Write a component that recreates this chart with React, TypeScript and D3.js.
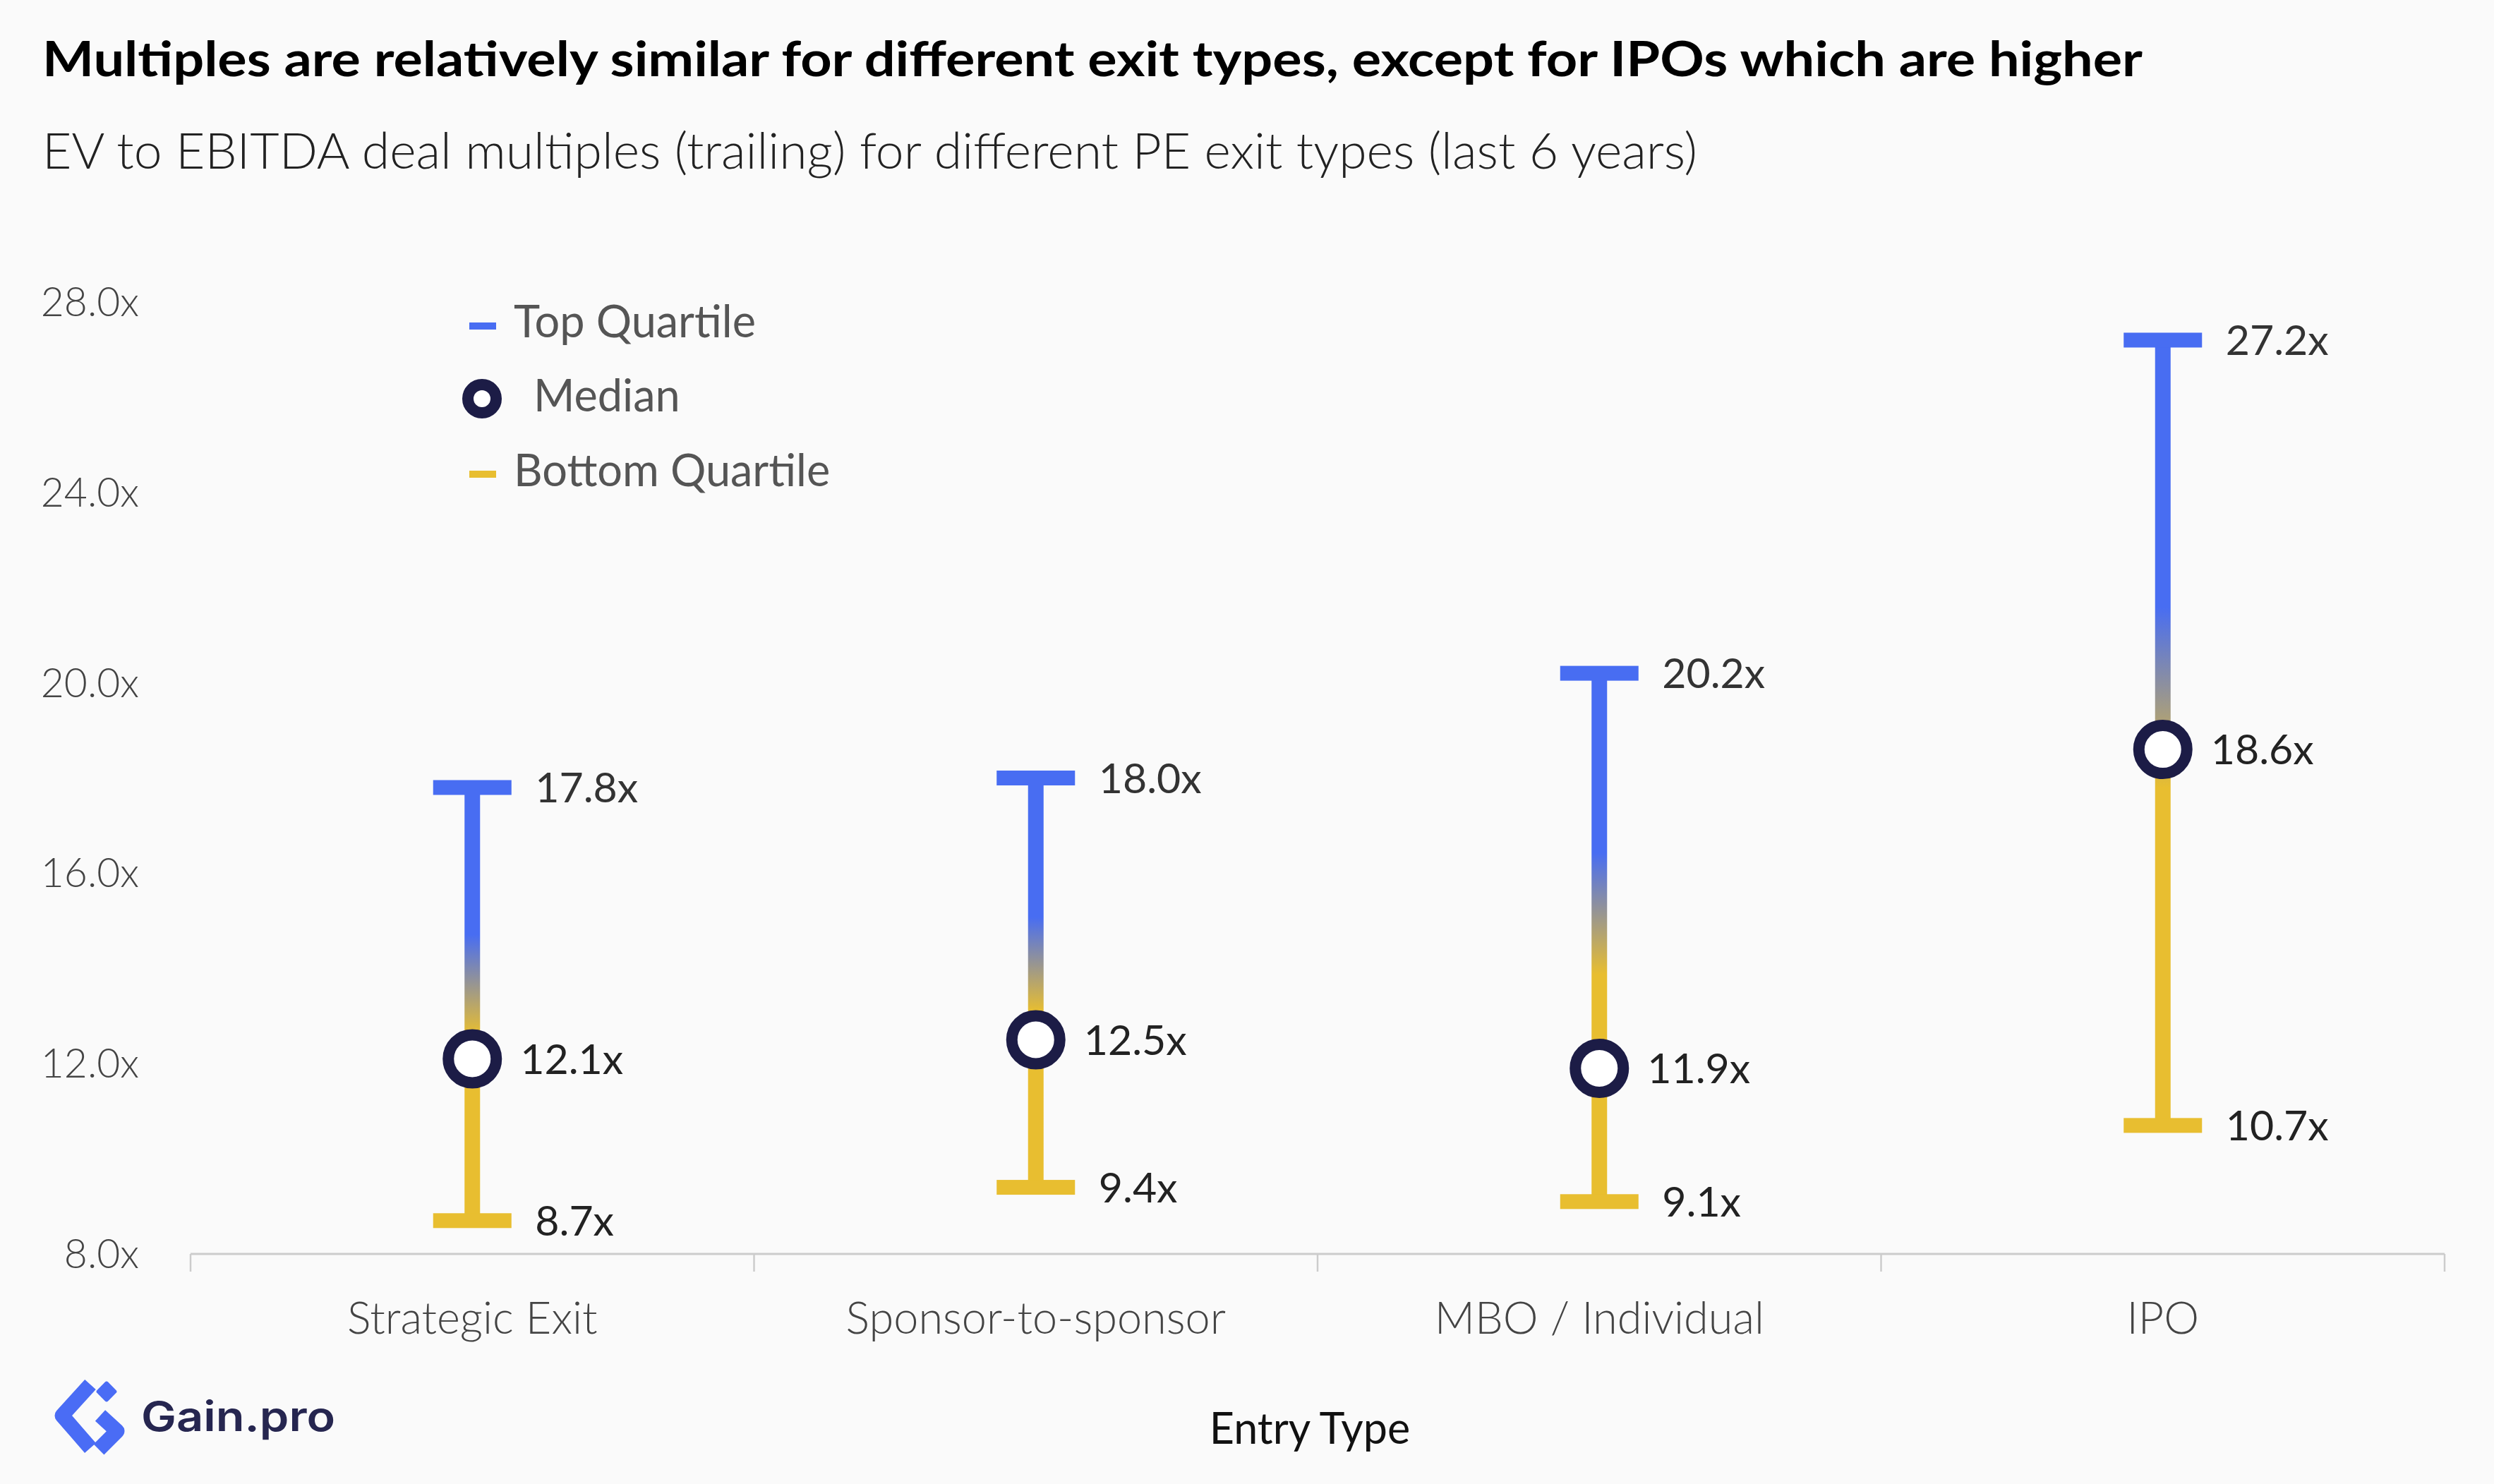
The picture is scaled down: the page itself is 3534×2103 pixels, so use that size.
import React from "react";
import * as d3 from "d3";

const categories = ["Strategic Exit", "Sponsor-to-sponsor", "MBO / Individual", "IPO"];
const topQuartile = [17.8, 18.0, 20.2, 27.2];
const medianValues = [12.1, 12.5, 11.9, 18.6];
const bottomQuartile = [8.7, 9.4, 9.1, 10.7];
const yTicks = [8, 12, 16, 20, 24, 28];

const W = 3534;
const H = 2103;
const BLUE = "#486DF2";
const YELLOW = "#E8BE30";
const NAVY = "#1C1C46";
const FONT = "Lato, 'Noto Sans', sans-serif";

export default function App() {
  const x = d3.scaleBand<string>().domain(categories).range([270, 3464]).padding(0);
  const y = d3.scaleLinear().domain([8, 28]).range([1777, 428]);
  const bw = x.bandwidth();
  const boundaries = categories.map((c) => x(c)!).concat([x(categories[categories.length - 1])! + bw]);
  const fmt = (v: number) => d3.format(".1f")(v) + "x";

  return (
    <div>
      <style>{`body{margin:0;background:#fafafa}`}</style>
      <svg width={W} height={H} viewBox={`0 0 ${W} ${H}`} style={{ display: "block", background: "#fafafa" }}>
        <defs>
          <linearGradient id="stemGrad" x1="0" y1="0" x2="0" y2="1">
            <stop offset="0" stopColor={BLUE} />
            <stop offset="0.34" stopColor={BLUE} />
            <stop offset="0.57" stopColor={YELLOW} />
            <stop offset="1" stopColor={YELLOW} />
          </linearGradient>
        </defs>

        {/* Title & subtitle */}
        <text x={60} y={108} fontFamily={FONT} fontWeight={700} fontSize={68} fill="#000"
          textLength={2976} lengthAdjust="spacingAndGlyphs">
          Multiples are relatively similar for different exit types, except for IPOs which are higher
        </text>
        <text x={60} y={239} fontFamily={FONT} fontWeight={300} fontSize={71} fill="#222"
          textLength={2345} lengthAdjust="spacingAndGlyphs">
          EV to EBITDA deal multiples (trailing) for different PE exit types (last 6 years)
        </text>

        {/* Y axis tick labels */}
        {yTicks.map((t) => (
          <text key={t} x={197} y={y(t)} dy="0.35em" textAnchor="end" fontFamily={FONT}
            fontWeight={300} fontSize={57} fill="#444">
            {fmt(t)}
          </text>
        ))}

        {/* X axis */}
        <line x1={270} x2={3464} y1={1777} y2={1777} stroke="#cccccc" strokeWidth={3} />
        {boundaries.map((b, i) => (
          <line key={i} x1={b} x2={b} y1={1777} y2={1802} stroke="#cccccc" strokeWidth={2.5} />
        ))}
        {categories.map((c) => (
          <text key={c} x={x(c)! + bw / 2} y={1890} textAnchor="middle" fontFamily={FONT}
            fontWeight={300} fontSize={63} fill="#444">
            {c}
          </text>
        ))}
        <text x={1856} y={2046} textAnchor="middle" fontFamily={FONT} fontWeight={400}
          fontSize={61} fill="#111">
          Entry Type
        </text>

        {/* Ranges */}
        {categories.map((c, i) => {
          const cx = x(c)! + bw / 2;
          const yt = y(topQuartile[i]);
          const yb = y(bottomQuartile[i]);
          const ym = y(medianValues[i]);
          return (
            <g key={c}>
              <rect x={cx - 11} y={yt} width={22} height={yb - yt} fill="url(#stemGrad)" />
              <rect x={cx - 55.5} y={yt - 10.5} width={111} height={21} fill={BLUE} />
              <rect x={cx - 55.5} y={yb - 10.5} width={111} height={21} fill={YELLOW} />
              <circle cx={cx} cy={ym} r={34} fill="#fff" stroke={NAVY} strokeWidth={16} />
              <text x={cx + 89} y={yt} dy="0.36em" fontFamily={FONT} fontSize={59} fill="#333">
                {fmt(topQuartile[i])}
              </text>
              <text x={cx + 68} y={ym} dy="0.36em" fontFamily={FONT} fontSize={59} fill="#222">
                {fmt(medianValues[i])}
              </text>
              <text x={cx + 89} y={yb} dy="0.36em" fontFamily={FONT} fontSize={59} fill="#222">
                {fmt(bottomQuartile[i])}
              </text>
            </g>
          );
        })}

        {/* Legend */}
        <rect x={665} y={457} width={38} height={10} fill={BLUE} />
        <text x={728} y={478} fontFamily={FONT} fontSize={63} fill="#555">Top Quartile</text>
        <circle cx={683} cy={565} r={20} fill="#fff" stroke={NAVY} strokeWidth={16} />
        <text x={756} y={583} fontFamily={FONT} fontSize={63} fill="#555">Median</text>
        <rect x={665} y={667} width={38} height={10} fill={YELLOW} />
        <text x={728} y={689} fontFamily={FONT} fontSize={63} fill="#555">Bottom Quartile</text>

        {/* Logo */}
        <g>
          <polyline points="128,1962 88,2006 128,2052" fill="none" stroke="#4A6CF5" strokeWidth={21}
            strokeLinejoin="round" />
          <rect x={140} y={1961} width={22} height={22} rx={3} fill="#4A6CF5"
            transform="rotate(45 151 1972)" />
          <polyline points="142,2006 166,2028 140,2054" fill="none" stroke="#4A6CF5" strokeWidth={21}
            strokeLinejoin="round" />
          <text x={200} y={2028} fontFamily="Inter, 'Noto Sans', sans-serif" fontWeight={600}
            fontSize={58} fill="#262650" textLength={275} lengthAdjust="spacingAndGlyphs">
            Gain.pro
          </text>
        </g>
      </svg>
    </div>
  );
}
